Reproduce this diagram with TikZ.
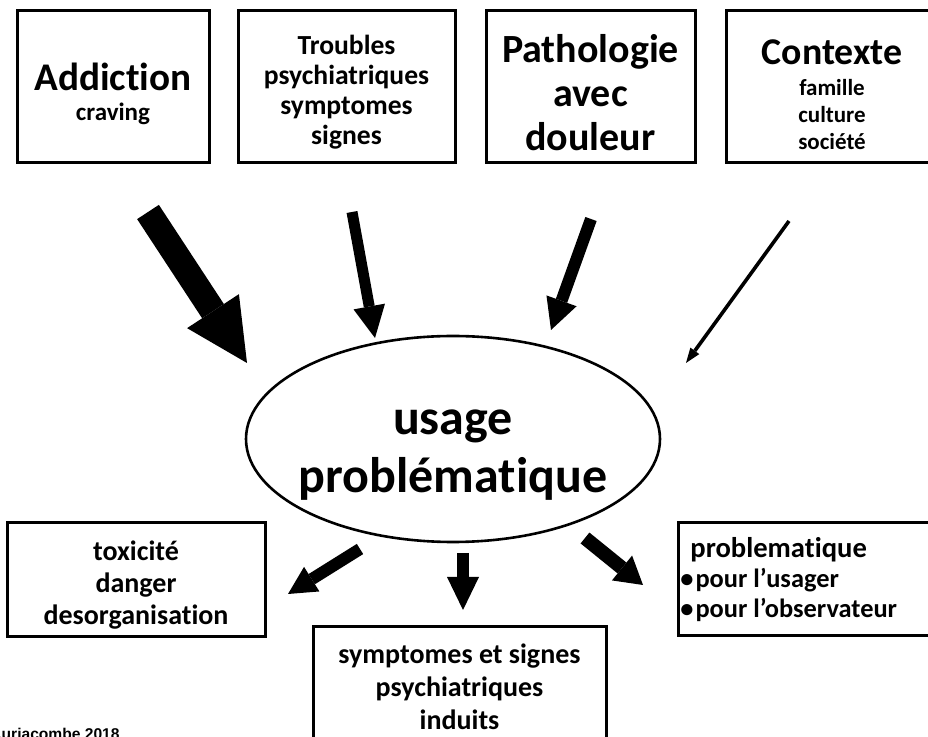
\documentclass[tikz,border=0pt]{standalone}
\usepackage{fontspec}
\setmainfont{Carlito}[Ligatures=NoCommon]
\newfontfamily\footfont{Liberation Sans}
\usetikzlibrary{arrows.meta,shapes.geometric}
\begin{document}
\begin{tikzpicture}[x=0.5pt,y=-0.5pt,font=\bfseries,
	box/.style={draw,line width=1.5pt,inner sep=0pt},
	txt/.style={inner sep=0pt,align=center},
	fs/.style 2 args={font=\bfseries\fontsize{#1}{#2}\selectfont},
	arr/.style n args={3}{line width=#1,-{Triangle[length=#2,width=#3,line width=0pt]}}]
	\useasboundingbox (0,0) rectangle (928,737);
	\clip (0,0) rectangle (928,737);
	% top row
	\node[box,minimum width=96pt,minimum height=76pt] (addic) at (113,87) {};
	\node[txt,fs={19.6}{15}] (addict) at (113,94) {Addiction\\\fontsize{12.5}{15}\selectfont craving};
	\node[box,minimum width=108.5pt,minimum height=76pt] (troub) at (346.5,87) {};
	\node[txt,fs={13.8}{15}] (troubt) at (346.5,92) {Troubles\\psychiatriques\\symptomes\\signes};
	\node[box,minimum width=104.5pt,minimum height=76pt] (patho) at (590.5,87) {};
	\node[txt,fs={20}{22}] (pathot) at (590.5,93) {Pathologie\\avec\\douleur};
	\node[box,minimum width=106pt,minimum height=76pt] (ctx) at (832,87) {};
	\node[txt,fs={18.9}{13.5}] (ctxt) at (832,95) {Contexte\\[2pt]\fontsize{11.5}{13.5}\selectfont famille\\\fontsize{11.5}{13.5}\selectfont culture\\\fontsize{11.5}{13.5}\selectfont société};
	% centre
	\node[ellipse,draw,line width=1.3pt,inner sep=0pt,minimum width=207pt,minimum height=103pt] (usage) at (453,439) {};
	\node[txt,fs={25}{29}] (usaget) at (453,455) {usage\\problématique};
	% bottom row
	\node[box,minimum width=129pt,minimum height=57pt] (tox) at (136,580) {};
	\node[txt,fs={14}{16}] (toxt) at (136,585) {toxicité\\danger\\desorganisation};
	\node[box,minimum width=146.5pt,minimum height=61pt] (sympt) at (459.5,688) {};
	\node[txt,fs={14}{16.5}] (sympte) at (459.5,687) {symptomes et signes\\psychiatriques\\induits};
	\node[box,anchor=west,minimum width=135pt,minimum height=56.5pt] (probl) at (677,579.5) {};
	\node[txt,fs={14.3}{15},anchor=west,align=left] (problt) at (680,580) {\hspace*{5pt}problematique\\\fontsize{13.2}{15}\selectfont •\hspace{1pt}pour l’usager\\\fontsize{13.2}{15}\selectfont •\hspace{1pt}pour l’observateur};
	\node[anchor=base west,inner sep=0pt,font=\footfont\bfseries\fontsize{7.8}{9}\selectfont] (cred) at (-10,740) {Auriacombe 2018};
	% arrows in
	\coordinate (a1) at (148,212); \coordinate (b1) at (247,363);
	\coordinate (a2) at (352,212); \coordinate (b2) at (375,338);
	\coordinate (a3) at (591,219); \coordinate (b3) at (551,330);
	\coordinate (a4) at (789,221); \coordinate (b4) at (686,363);
	\draw[arr={13pt}{31pt}{31pt}] (a1) -- (b1);
	\draw[arr={5.5pt}{16pt}{16pt}] (a2) -- (b2);
	\draw[arr={6pt}{15.5pt}{16pt}] (a3) -- (b3);
	\draw[arr={1.8pt}{7.5pt}{5.5pt}] (a4) -- (b4);
	% arrows out
	\coordinate (c1) at (360,549); \coordinate (d1) at (288,594);
	\coordinate (c2) at (463,553); \coordinate (d2) at (463,610);
	\coordinate (c3) at (585,538); \coordinate (d3) at (643,585);
	\draw[arr={6pt}{14pt}{14.5pt}] (c1) -- (d1);
	\draw[arr={6pt}{16.5pt}{16pt}] (c2) -- (d2);
	\draw[arr={7pt}{13.5pt}{16pt}] (c3) -- (d3);
\end{tikzpicture}
\end{document}
